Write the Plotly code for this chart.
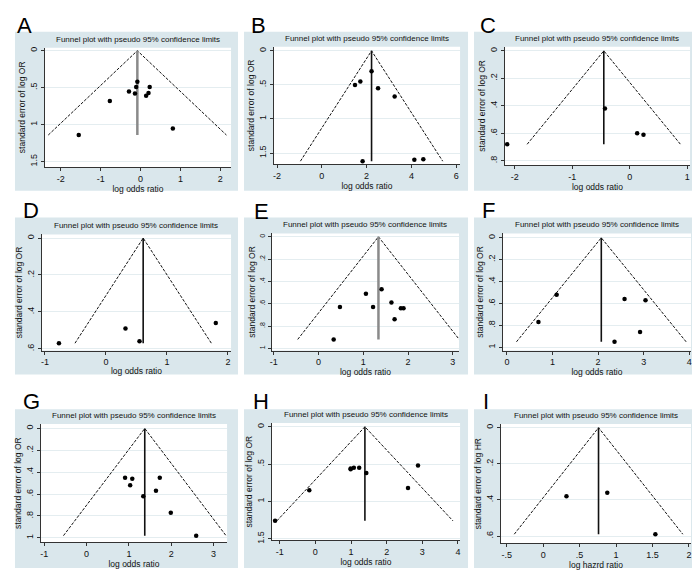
import plotly.graph_objects as go

# ---------------- data ----------------
panel_letters = ["A", "B", "C", "D", "E", "F", "G", "H", "I"]

A_lor = [-0.08, -0.11, 0.23, -0.29, -0.14, 0.20, 0.14, -0.77, 0.81, -1.55]
A_se = [0.42, 0.49, 0.49, 0.55, 0.58, 0.57, 0.61, 0.68, 1.05, 1.14]
A_pooled = -0.08

B_lor = [2.22, 1.72, 1.48, 2.51, 3.25, 4.13, 4.53, 1.82]
B_se = [0.30, 0.45, 0.50, 0.55, 0.67, 1.60, 1.59, 1.62]
B_pooled = 2.22

C_lor = [-0.43, 0.13, 0.24, -2.13]
C_se = [0.42, 0.60, 0.61, 0.68]
C_pooled = -0.45

D_lor = [0.32, 0.55, 1.80, -0.77]
D_se = [0.49, 0.56, 0.46, 0.57]
D_pooled = 0.61

E_lor = [1.41, 1.06, 1.63, 0.48, 1.22, 1.84, 1.90, 1.70, 0.34]
E_se = [0.47, 0.51, 0.59, 0.63, 0.63, 0.64, 0.64, 0.74, 0.92]
E_pooled = 1.34

F_lor = [1.09, 2.58, 3.04, 0.69, 2.92, 2.36]
F_se = [0.52, 0.56, 0.57, 0.77, 0.86, 0.95]
F_pooled = 2.07

G_lor = [0.91, 1.08, 1.73, 1.03, 1.64, 1.34, 1.99, 2.59]
G_se = [0.45, 0.46, 0.45, 0.52, 0.57, 0.62, 0.77, 0.98]
G_pooled = 1.375

H_lor = [0.99, 0.99, 1.08, 1.23, 1.43, 2.88, 2.60, -0.17, -1.13]
H_se = [0.57, 0.56, 0.55, 0.55, 0.62, 0.52, 0.82, 0.85, 1.26]
H_pooled = 1.39

I_lor = [0.32, 0.88, 1.54]
I_se = [0.38, 0.36, 0.59]
I_pooled = 0.76

# tick values / labels
A_xticks = [-2, -1, 0, 1, 2];            A_xlabels = ["-2", "-1", "0", "1", "2"]
A_yticks = [0, 0.5, 1, 1.5];             A_ylabels = ["0", ".5", "1", "1.5"]
B_xticks = [-2, 0, 2, 4, 6];             B_xlabels = ["-2", "0", "2", "4", "6"]
B_yticks = [0, 0.5, 1, 1.5];             B_ylabels = ["0", ".5", "1", "1.5"]
C_xticks = [-2, -1, 0, 1];               C_xlabels = ["-2", "-1", "0", "1"]
C_yticks = [0, 0.2, 0.4, 0.6, 0.8];      C_ylabels = ["0", ".2", ".4", ".6", ".8"]
D_xticks = [-1, 0, 1, 2];                D_xlabels = ["-1", "0", "1", "2"]
D_yticks = [0, 0.2, 0.4, 0.6];           D_ylabels = ["0", ".2", ".4", ".6"]
E_xticks = [-1, 0, 1, 2, 3];             E_xlabels = ["-1", "0", "1", "2", "3"]
E_yticks = [0, 0.2, 0.4, 0.6, 0.8, 1];   E_ylabels = ["0", ".2", ".4", ".6", ".8", "1"]
F_xticks = [0, 1, 2, 3, 4];              F_xlabels = ["0", "1", "2", "3", "4"]
F_yticks = [0, 0.2, 0.4, 0.6, 0.8, 1];   F_ylabels = ["0", ".2", ".4", ".6", ".8", "1"]
G_xticks = [-1, 0, 1, 2, 3];             G_xlabels = ["-1", "0", "1", "2", "3"]
G_yticks = [0, 0.2, 0.4, 0.6, 0.8, 1];   G_ylabels = ["0", ".2", ".4", ".6", ".8", "1"]
H_xticks = [-1, 0, 1, 2, 3, 4];          H_xlabels = ["-1", "0", "1", "2", "3", "4"]
H_yticks = [0, 0.5, 1, 1.5];             H_ylabels = ["0", ".5", "1", "1.5"]
I_xticks = [-0.5, 0, 0.5, 1, 1.5, 2];    I_xlabels = ["-.5", "0", ".5", "1", "1.5", "2"]
I_yticks = [0, 0.2, 0.4, 0.6];           I_ylabels = ["0", ".2", ".4", ".6"]

x_titles = ["log odds ratio"] * 8 + ["log hazrd ratio"]
y_titles = ["standard error of log OR"] * 8 + ["standard error of log HR"]
plot_title = "Funnel plot with pseudo 95% confidence limits"
z_crit = 1.96

data = [
    (A_lor, A_se, A_pooled, A_xticks, A_xlabels, A_yticks, A_ylabels),
    (B_lor, B_se, B_pooled, B_xticks, B_xlabels, B_yticks, B_ylabels),
    (C_lor, C_se, C_pooled, C_xticks, C_xlabels, C_yticks, C_ylabels),
    (D_lor, D_se, D_pooled, D_xticks, D_xlabels, D_yticks, D_ylabels),
    (E_lor, E_se, E_pooled, E_xticks, E_xlabels, E_yticks, E_ylabels),
    (F_lor, F_se, F_pooled, F_xticks, F_xlabels, F_yticks, F_ylabels),
    (G_lor, G_se, G_pooled, G_xticks, G_xlabels, G_yticks, G_ylabels),
    (H_lor, H_se, H_pooled, H_xticks, H_xlabels, H_yticks, H_ylabels),
    (I_lor, I_se, I_pooled, I_xticks, I_xlabels, I_yticks, I_ylabels),
]

# ---------------- layout / style ----------------
W, H = 700, 570
FONT = "Liberation Sans, Arial, sans-serif"
BOX_COLOR = "#dae7ec"
GRID_COLOR = "#e4edf0"

# plot-area pixel boxes (x0, x1, y0, y1) and axis ranges
plot_px = [
    (35, 222, 39, 159), (265, 452, 38, 156), (497, 683, 38, 157),
    (32, 222, 227, 344), (263, 451, 226, 344), (495, 684, 226, 344),
    (31, 218, 418, 537), (263, 452, 417, 535), (493, 684, 418, 538),
]
x_ranges = [(-2.40, 2.27), (-2.14, 6.17), (-2.17, 1.05),
            (-1.05, 2.05), (-1.04, 3.14), (-0.09, 4.04),
            (-1.08, 3.32), (-1.22, 4.06), (-0.58, 2.03)]
y_ranges = [(-0.04, 1.57), (-0.06, 1.66), (-0.03, 0.83),
            (-0.02, 0.61), (-0.03, 1.02), (-0.04, 1.03),
            (-0.04, 1.04), (-0.05, 1.52), (-0.02, 0.64)]
box_cols = [(5, 229), (235, 460), (466, 691)]
box_rows = [(23, 183), (210, 368), (403, 563)]
letter_pos = [(5, 2), (240, 2), (470, 2), (11, 188), (243, 189), (472, 188),
              (11, 381), (242, 381), (473, 381)]
pooled_gray = [True, False, False, False, True, False, False, False, False]

fig = go.Figure()
shapes = []
annotations = []
layout_axes = {}

for i, (lor, se, pooled, xt, xl, yt, yl) in enumerate(data):
    n = i + 1
    xa = "x" if n == 1 else f"x{n}"
    ya = "y" if n == 1 else f"y{n}"
    x0, x1, y0, y1 = plot_px[i]
    smax = max(se)

    # funnel limits
    fig.add_trace(go.Scatter(
        x=[pooled - z_crit * smax, pooled, pooled + z_crit * smax],
        y=[smax, 0, smax], mode="lines", xaxis=xa, yaxis=ya,
        line=dict(color="#111111", width=1, dash="3px,1.5px"),
        showlegend=False, hoverinfo="skip"))
    # pooled estimate line
    fig.add_trace(go.Scatter(
        x=[pooled, pooled], y=[0, smax], mode="lines", xaxis=xa, yaxis=ya,
        line=dict(color="#8a8a8a" if pooled_gray[i] else "#111111",
                  width=2.5 if pooled_gray[i] else 1.6),
        showlegend=False, hoverinfo="skip"))
    # studies
    fig.add_trace(go.Scatter(
        x=lor, y=se, mode="markers", xaxis=xa, yaxis=ya,
        marker=dict(color="black", size=4.5),
        showlegend=False))

    xkey = "xaxis" if n == 1 else f"xaxis{n}"
    ykey = "yaxis" if n == 1 else f"yaxis{n}"
    layout_axes[xkey] = dict(
        domain=[x0 / W, x1 / W], anchor=ya, range=list(x_ranges[i]),
        tickvals=xt, ticktext=xl, ticks="outside", ticklen=3, tickwidth=1,
        tickcolor="#333", showline=True, linecolor="#333", linewidth=1,
        showgrid=False, zeroline=False,
        tickfont=dict(family=FONT, size=9, color="#111"),
        title=dict(text=x_titles[i], standoff=1,
                   font=dict(family=FONT, size=8.5, color="#111")))
    layout_axes[ykey] = dict(
        domain=[1 - y1 / H, 1 - y0 / H], anchor=xa,
        range=[y_ranges[i][1], y_ranges[i][0]],
        tickvals=yt, ticktext=yl, tickangle=-90, ticks="outside", ticklen=3,
        tickwidth=1, tickcolor="#333", showline=True, linecolor="#333",
        linewidth=1, showgrid=True, gridcolor=GRID_COLOR, gridwidth=1,
        zeroline=False,
        tickfont=dict(family=FONT, size=7 if n == 5 else 9, color="#111"),
        title=dict(text=y_titles[i], standoff=2,
                   font=dict(family=FONT, size=8.5, color="#111")))

    r, c = divmod(i, 3)
    bx0, bx1 = box_cols[c]
    by0, by1 = box_rows[r]
    shapes.append(dict(type="rect", xref="paper", yref="paper", layer="below",
                       x0=bx0 / W, x1=bx1 / W, y0=1 - by1 / H, y1=1 - by0 / H,
                       fillcolor=BOX_COLOR, line=dict(width=0)))
    shapes.append(dict(type="rect", xref="paper", yref="paper", layer="below",
                       x0=x0 / W, x1=x1 / W, y0=1 - y1 / H, y1=1 - y0 / H,
                       fillcolor="white", line=dict(width=0)))
    annotations.append(dict(
        text=plot_title, xref="paper", yref="paper",
        x=(x0 + x1) / 2 / W, y=1 - (y0 - 2) / H, xanchor="center",
        yanchor="bottom", showarrow=False,
        font=dict(family=FONT, size=8, color="#111")))
    lx, ly = letter_pos[i]
    annotations.append(dict(
        text=panel_letters[i], xref="paper", yref="paper",
        x=lx / W, y=1 - ly / H, xanchor="left", yanchor="top",
        showarrow=False, font=dict(family=FONT, size=22, color="black")))

fig.update_layout(
    width=W, height=H, margin=dict(l=0, r=0, t=0, b=0),
    paper_bgcolor="white", plot_bgcolor="rgba(0,0,0,0)",
    shapes=shapes, annotations=annotations, showlegend=False,
    **layout_axes)

fig.write_html("out.html")
